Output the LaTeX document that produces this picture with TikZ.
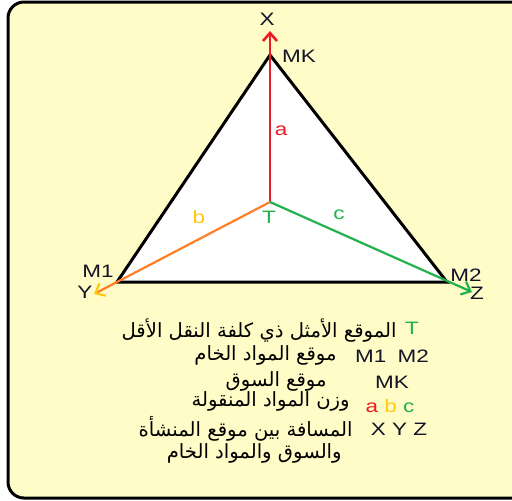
\documentclass[tikz,border=0pt]{standalone}
\usepackage{graphicx}
\usepackage{fontspec}
\setmainfont{Liberation Sans}
\newfontfamily\arabicfont[Script=Arabic]{DejaVu Sans}
\TeXXeTstate=1
\usetikzlibrary{arrows.meta,positioning,calc}
\definecolor{paper}{RGB}{255,252,200}
\definecolor{pred}{RGB}{237,28,36}
\definecolor{porange}{RGB}{255,127,39}
\definecolor{pgold}{RGB}{255,201,14}
\definecolor{pgreen}{RGB}{34,177,76}
\definecolor{pink}{RGB}{20,20,40}
\newcommand{\wide}[1]{\scalebox{1.25}[1]{#1}}
\tikzset{
  lbl/.style={inner sep=0pt, font=\fontsize{9}{11}\selectfont, text=pink},
  arlbl/.style={inner sep=0pt, anchor=east, font=\arabicfont\fontsize{9.8}{11}\selectfont},
  tri/.style={draw=black, line width=1.5pt, fill=white, line join=miter},
  arrx/.style={-{Straight Barb[length=4pt,width=7pt]}, pred, line width=1.3pt},
  arry/.style={-{Straight Barb[length=4pt,width=7pt,color=pgold]}, porange, line width=1.1pt},
  arrz/.style={-{Straight Barb[length=4pt,width=7pt]}, pgreen, line width=1.1pt},
}
\begin{document}
\begin{tikzpicture}[x=0.5pt, y=-0.5pt]
  \useasboundingbox (0,0) rectangle (512,500);
  \draw[line width=1.5pt, fill=paper, rounded corners=8pt] (8,2) rectangle (540,498);
  % corners of the triangle
  \coordinate (mk) at (270,55);
  \coordinate (m1) at (117,282);
  \coordinate (m2) at (447,282);
  \coordinate (t) at (270,202);
  \draw[tri] (mk) -- (m1) -- (m2) -- cycle;
  % arrow ends
  \coordinate (xend) at (270,31);
  \coordinate (yend) at (94,294);
  \coordinate (zend) at (472,292);
  \draw[arrx] (t) -- (xend);
  \draw[arry] (t) -- (yend);
  \draw[arrz] (t) -- (zend);
  % labels on the triangle
  \node[lbl] (xl) at (267,19) {\wide{X}};
  \node[lbl] (mkl) at (299,56) {\wide{MK}};
  \node[lbl, text=pred] (al) at (281,131) {\wide{a}};
  \node[lbl, text=pgold] (bl) at (199,217) {\wide{b}};
  \node[lbl, text=pgreen] (tl) at (269,217) {\wide{T}};
  \node[lbl, text=pgreen] (cl) at (339,215) {\wide{c}};
  \node[lbl] (m1l) at (98,271) {\wide{M1}};
  \node[lbl] (yl) at (85,292) {\wide{Y}};
  \node[lbl] (m2l) at (466,275) {\wide{M2}};
  \node[lbl] (zl) at (477,293) {\wide{Z}};
  % legend
  \node[lbl, text=pgreen] (lt) at (412,328) {\wide{T}};
  \node[arlbl] (at) at (397,331) {\beginR الموقع الأمثل ذي كلفة النقل الأقل\endR};
  \node[lbl] (lm) at (392,356) {\wide{M1\enspace M2}};
  \node[arlbl] (am) at (337,355) {\beginR موقع المواد الخام\endR};
  \node[lbl] (lk) at (392,382) {\wide{MK}};
  \node[arlbl] (ak) at (327,381) {\beginR موقع السوق\endR};
  \node[lbl] (lw) at (390,406) {\wide{\textcolor{pred}{a} \textcolor{pgold}{b} \textcolor{pgreen}{c}}};
  \node[arlbl] (aw) at (350,401) {\beginR وزن المواد المنقولة\endR};
  \node[lbl] (ld) at (399,429) {\wide{X Y Z}};
  \node[arlbl] (ad) at (353,429) {\beginR المسافة بين موقع المنشأة\endR};
  \node[arlbl] (ad2) at (342,453) {\beginR والسوق والمواد الخام\endR};
\end{tikzpicture}
\end{document}
